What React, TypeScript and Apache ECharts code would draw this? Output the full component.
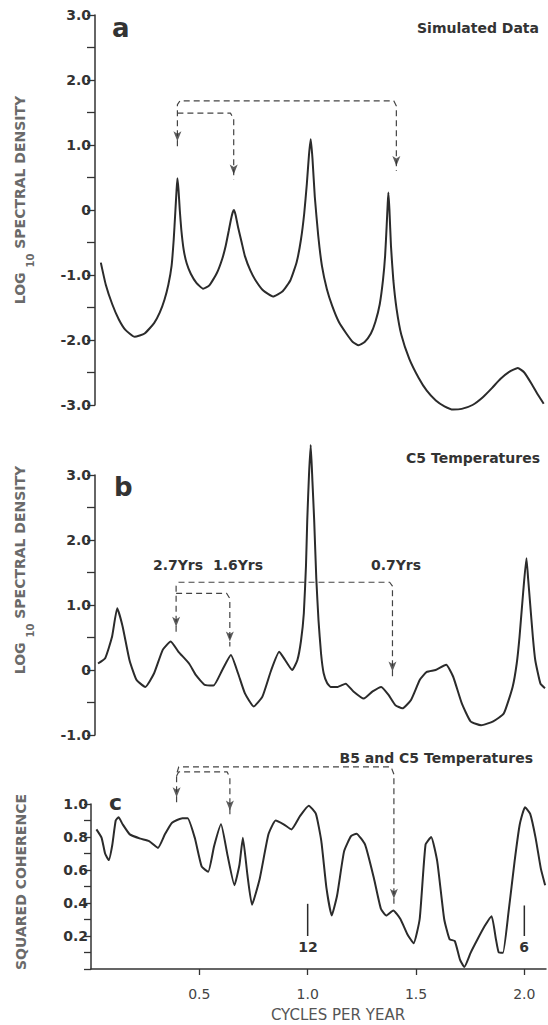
import React, { useEffect, useRef } from 'react';
import * as echarts from 'echarts';

// ---------- data ----------
const X_TICKS = [0.5, 1.0, 1.5, 2.0];
const Y_LABELS_A = [-3, -2, -1, 0, 1, 2, 3];
const Y_LABELS_B = [-1, 0, 1, 2, 3];
const Y_LABELS_C = [0.2, 0.4, 0.6, 0.8, 1.0];

// panel a: simulated data, log10 spectral density
const simulated: number[][] = [
  [0.027, -0.81], [0.05, -1.15], [0.08, -1.45], [0.11, -1.68], [0.14, -1.84], [0.184, -1.95],
  [0.23, -1.9], [0.274, -1.74], [0.3, -1.58], [0.322, -1.38], [0.34, -1.15], [0.355, -0.86],
  [0.365, -0.45], [0.372, -0.05], [0.378, 0.3], [0.382, 0.49], [0.387, 0.32], [0.393, 0.0],
  [0.4, -0.3], [0.411, -0.61], [0.425, -0.82], [0.444, -0.98], [0.47, -1.12], [0.501, -1.21],
  [0.53, -1.16], [0.565, -0.97], [0.59, -0.75], [0.606, -0.55], [0.62, -0.32], [0.63, -0.15],
  [0.638, -0.04], [0.644, 0.0], [0.652, -0.08], [0.663, -0.26], [0.68, -0.5], [0.695, -0.71],
  [0.72, -0.93], [0.744, -1.08], [0.78, -1.24], [0.825, -1.33], [0.87, -1.25], [0.906, -1.08],
  [0.935, -0.8], [0.955, -0.45], [0.97, -0.05], [0.982, 0.4], [0.992, 0.85], [1.0, 1.09],
  [1.008, 0.8], [1.019, 0.2], [1.035, -0.4], [1.052, -0.86], [1.075, -1.22], [1.1, -1.48],
  [1.13, -1.72], [1.165, -1.9], [1.195, -2.03], [1.222, -2.08], [1.25, -2.03], [1.279, -1.9],
  [1.3, -1.72], [1.32, -1.45], [1.335, -1.08], [1.345, -0.7], [1.352, -0.25], [1.357, 0.1],
  [1.36, 0.27], [1.365, 0.0], [1.372, -0.55], [1.383, -1.08], [1.398, -1.52], [1.42, -1.92],
  [1.457, -2.29], [1.5, -2.58], [1.538, -2.78], [1.58, -2.93], [1.62, -3.02], [1.66, -3.07],
  [1.7, -3.06], [1.75, -3.0], [1.798, -2.88], [1.84, -2.74], [1.879, -2.6], [1.92, -2.49],
  [1.96, -2.43], [1.99, -2.5], [2.025, -2.68], [2.055, -2.85], [2.08, -2.98],
];

// panel b: C5 temperatures, log10 spectral density
const c5Temps: number[][] = [
  [0.014, 0.1], [0.047, 0.18], [0.079, 0.51], [0.103, 0.95], [0.128, 0.67], [0.16, 0.15],
  [0.192, -0.15], [0.233, -0.26], [0.274, -0.05], [0.314, 0.31], [0.351, 0.44], [0.387, 0.28],
  [0.436, 0.1], [0.468, -0.08], [0.509, -0.23], [0.549, -0.24], [0.59, 0.0], [0.63, 0.23],
  [0.663, -0.05], [0.695, -0.36], [0.736, -0.56], [0.776, -0.41], [0.817, 0.0], [0.854, 0.28],
  [0.882, 0.15], [0.914, 0.0], [0.938, 0.15], [0.955, 0.45], [0.968, 0.87], [0.978, 1.6],
  [0.984, 2.31], [0.992, 3.0], [1.0, 3.46], [1.008, 2.9], [1.016, 2.31], [1.026, 1.4],
  [1.036, 0.77], [1.048, 0.25], [1.06, -0.05], [1.076, -0.2], [1.092, -0.26], [1.125, -0.26],
  [1.162, -0.21], [1.198, -0.33], [1.246, -0.44], [1.287, -0.33], [1.327, -0.26], [1.36, -0.38],
  [1.392, -0.54], [1.425, -0.59], [1.465, -0.46], [1.506, -0.15], [1.538, -0.03], [1.579, 0.0],
  [1.628, 0.08], [1.66, -0.1], [1.7, -0.51], [1.741, -0.79], [1.79, -0.85], [1.846, -0.79],
  [1.895, -0.67], [1.936, -0.26], [1.955, 0.1], [1.968, 0.51], [1.985, 1.2], [2.0, 1.72],
  [2.008, 1.4], [2.017, 1.03], [2.03, 0.5], [2.041, 0.15], [2.065, -0.21], [2.086, -0.28],
];

// panel c: B5 and C5 temperatures, squared coherence
const coherence: number[][] = [
  [0.025, 0.846], [0.049, 0.795], [0.065, 0.7], [0.082, 0.66], [0.098, 0.75], [0.114, 0.9],
  [0.127, 0.92], [0.146, 0.877], [0.179, 0.816], [0.228, 0.79], [0.268, 0.775], [0.309, 0.734],
  [0.341, 0.816], [0.374, 0.887], [0.422, 0.914], [0.446, 0.914], [0.479, 0.795], [0.511, 0.62],
  [0.541, 0.59], [0.568, 0.744], [0.6, 0.877], [0.63, 0.69], [0.662, 0.508], [0.685, 0.63],
  [0.701, 0.795], [0.722, 0.57], [0.743, 0.39], [0.779, 0.549], [0.819, 0.816], [0.852, 0.9],
  [0.889, 0.877], [0.925, 0.846], [0.965, 0.928], [1.005, 0.99], [1.038, 0.94], [1.063, 0.775],
  [1.087, 0.488], [1.111, 0.324], [1.136, 0.447], [1.168, 0.713], [1.2, 0.805], [1.225, 0.82],
  [1.265, 0.754], [1.306, 0.549], [1.338, 0.365], [1.363, 0.324], [1.395, 0.355], [1.428, 0.303],
  [1.46, 0.211], [1.489, 0.156], [1.517, 0.303], [1.544, 0.754], [1.57, 0.8], [1.598, 0.652],
  [1.63, 0.303], [1.655, 0.18], [1.679, 0.17], [1.703, 0.057], [1.723, 0.012], [1.752, 0.098],
  [1.784, 0.18], [1.817, 0.26], [1.849, 0.32], [1.869, 0.18], [1.882, 0.1], [1.901, 0.098],
  [1.927, 0.344], [1.955, 0.652], [1.979, 0.877], [2.003, 0.98], [2.027, 0.94], [2.052, 0.795],
  [2.076, 0.61], [2.096, 0.508],
];

// annotation brackets (dashed), ending at arrow tips
const bracketAOuter = [[0.382, 0.98], [0.382, 1.62], [0.394, 1.68], [1.385, 1.68], [1.397, 1.6], [1.397, 0.6]];
const bracketAInner = [[0.382, 1.49], [0.628, 1.49], [0.643, 1.4], [0.643, 0.47]];
const bracketBOuter = [[0.376, 0.59], [0.376, 1.29], [0.388, 1.35], [1.366, 1.35], [1.379, 1.29], [1.379, -0.1]];
const bracketBInner = [[0.376, 1.18], [0.61, 1.18], [0.625, 1.1], [0.625, 0.36]];
const bracketCOuter = [[0.395, 1.01], [0.395, 1.18], [0.405, 1.225], [1.385, 1.225], [1.398, 1.18], [1.398, 0.395]];
const bracketCInner = [[0.395, 1.17], [0.405, 1.195], [0.628, 1.195], [0.641, 1.16], [0.641, 0.93]];
const arrowsA = [[0.382, 0.98], [0.643, 0.47], [1.397, 0.6]];
const arrowsB = [[0.376, 0.59], [0.625, 0.36], [1.379, -0.1]];
const arrowsC = [[0.395, 1.01], [0.641, 0.93], [1.398, 0.395]];

// period markers in panel c
const marker12 = [[1.0, 0.2], [1.0, 0.395]];
const marker6 = [[2.0, 0.2], [2.0, 0.385]];

const FONT = '"DejaVu Sans", "Liberation Sans", sans-serif';
const INK = '#2b2b2b';

function fmtY(v: number) {
  if (Math.abs(v) < 1e-9) return '0';
  return v.toFixed(1);
}
function near(list: number[], v: number) {
  return list.some((t) => Math.abs(t - v) < 1e-6);
}

function buildOption() {
  const grids = [
    { left: 95, top: 15, width: 455, height: 390 },
    { left: 95, top: 475, width: 455, height: 260 },
    { left: 91, top: 804, width: 455, height: 165 },
  ];
  const labelStyle = { color: '#333', fontFamily: FONT, fontSize: 14, fontWeight: 'bold' as const };
  const xAxis = [0, 1, 2].map((i) => ({
    type: 'value',
    gridIndex: i,
    min: 0,
    max: 2.1,
    interval: 0.5,
    show: i === 2,
    axisLine: { show: true, onZero: false, lineStyle: { color: '#333', width: 1.5 } },
    axisTick: { show: true, inside: false, length: 6, customValues: X_TICKS, lineStyle: { color: '#333', width: 1.3 } },
    axisLabel: {
      show: true,
      customValues: X_TICKS,
      margin: 18,
      color: '#444',
      fontFamily: FONT,
      fontSize: 14,
      formatter: (v: number) => (near(X_TICKS, v) ? v.toFixed(1) : ''),
    },
    splitLine: { show: false },
  }));
  const yAxisBase = {
    type: 'value',
    axisLine: { show: true, onZero: false, lineStyle: { color: '#333', width: 1.5 } },
    axisTick: { show: true, inside: false, length: 8, lineStyle: { color: '#333', width: 1.3 } },
    splitLine: { show: false },
  };
  const yAxis = [
    {
      ...yAxisBase,
      gridIndex: 0,
      min: -3,
      max: 3,
      interval: 0.5,
      axisLabel: { ...labelStyle, margin: 4, formatter: (v: number) => (near(Y_LABELS_A, v) ? fmtY(v) : '') },
    },
    {
      ...yAxisBase,
      gridIndex: 1,
      min: -1,
      max: 3,
      interval: 0.5,
      axisLabel: { ...labelStyle, margin: 4, formatter: (v: number) => (near(Y_LABELS_B, v) ? fmtY(v) : '') },
    },
    {
      ...yAxisBase,
      gridIndex: 2,
      min: 0,
      max: 1,
      interval: 0.1,
      axisTick: { ...yAxisBase.axisTick, length: 7 },
      axisLabel: { ...labelStyle, margin: 3, formatter: (v: number) => (near(Y_LABELS_C, v) ? v.toFixed(1) : '') },
    },
  ];

  const curve = (data: number[][], idx: number) => ({
    type: 'line',
    xAxisIndex: idx,
    yAxisIndex: idx,
    data,
    symbol: 'none',
    smooth: 0.15,
    clip: false,
    lineStyle: { color: INK, width: 2 },
    z: 3,
  });
  const dashed = (data: number[][], idx: number) => ({
    type: 'line',
    xAxisIndex: idx,
    yAxisIndex: idx,
    data,
    symbol: 'none',
    clip: false,
    lineStyle: { color: '#444', width: 1.2, type: [6, 4] },
    z: 2,
  });
  const arrows = (data: number[][], idx: number) => ({
    type: 'scatter',
    xAxisIndex: idx,
    yAxisIndex: idx,
    data,
    clip: false,
    symbol: 'arrow',
    symbolSize: [6, 10],
    symbolRotate: 180,
    symbolOffset: [0, -5],
    itemStyle: { color: '#333' },
    z: 4,
  });
  const solid = (data: number[][], idx: number) => ({
    type: 'line',
    xAxisIndex: idx,
    yAxisIndex: idx,
    data,
    symbol: 'none',
    clip: false,
    lineStyle: { color: INK, width: 1.5 },
  });

  const series = [
    curve(simulated, 0),
    curve(c5Temps, 1),
    curve(coherence, 2),
    dashed(bracketAOuter, 0),
    dashed(bracketAInner, 0),
    dashed(bracketBOuter, 1),
    dashed(bracketBInner, 1),
    dashed(bracketCOuter, 2),
    dashed(bracketCInner, 2),
    arrows(arrowsA, 0),
    arrows(arrowsB, 1),
    arrows(arrowsC, 2),
    solid(marker12, 2),
    solid(marker6, 2),
  ];

  const titleRich = {
    a: { fontFamily: FONT, fontSize: 14, fontWeight: 'bold', fill: '#6a6a6a', lineHeight: 14, verticalAlign: 'top' },
    s: { fontFamily: FONT, fontSize: 10, fontWeight: 'bold', fill: '#6a6a6a', lineHeight: 22, verticalAlign: 'bottom' },
  };
  const txt = (text: string, x: number, y: number, opts: any = {}) => ({
    type: 'text',
    x,
    y,
    style: {
      text,
      fill: '#333',
      font: `bold 14px ${FONT}`,
      textAlign: 'left',
      textVerticalAlign: 'middle',
      ...opts,
    },
  });

  const graphic = [
    // vertical axis titles
    {
      type: 'text',
      x: 24,
      y: 200,
      rotation: Math.PI / 2,
      style: { text: '{a|LOG }{s|10}{a| SPECTRAL DENSITY}', rich: titleRich, textAlign: 'center', textVerticalAlign: 'middle' },
    },
    {
      type: 'text',
      x: 24,
      y: 570,
      rotation: Math.PI / 2,
      style: { text: '{a|LOG }{s|10}{a| SPECTRAL DENSITY}', rich: titleRich, textAlign: 'center', textVerticalAlign: 'middle' },
    },
    {
      type: 'text',
      x: 21,
      y: 882,
      rotation: Math.PI / 2,
      style: { text: 'SQUARED COHERENCE', fill: '#6a6a6a', font: `bold 14px ${FONT}`, textAlign: 'center', textVerticalAlign: 'middle' },
    },
    // panel letters
    txt('a', 112, 28, { font: `bold 26px ${FONT}` }),
    txt('b', 114, 487, { font: `bold 26px ${FONT}` }),
    txt('c', 109, 802, { font: `bold 22px ${FONT}` }),
    // panel titles
    txt('Simulated Data', 539, 28, { textAlign: 'right' }),
    txt('C5 Temperatures', 540, 458, { textAlign: 'right' }),
    txt('B5 and C5 Temperatures', 533, 758, { textAlign: 'right' }),
    // period annotations
    txt('2.7Yrs', 178, 565, { textAlign: 'center' }),
    txt('1.6Yrs', 238, 565, { textAlign: 'center' }),
    txt('0.7Yrs', 396, 565, { textAlign: 'center' }),
    txt('12', 308, 947, { textAlign: 'center' }),
    txt('6', 524, 947, { textAlign: 'center' }),
    // x axis title
    txt('CYCLES PER YEAR', 338, 1015, { textAlign: 'center', font: `15px ${FONT}`, fill: '#555' }),
  ];

  return {
    animation: false,
    backgroundColor: '#ffffff',
    grid: grids,
    xAxis,
    yAxis,
    series,
    graphic,
  };
}

export default function App() {
  const ref = useRef<HTMLDivElement>(null);
  useEffect(() => {
    document.body.style.margin = '0';
    const chart = echarts.init(ref.current!, null, { renderer: 'svg' });
    chart.setOption(buildOption() as any);
    return () => chart.dispose();
  }, []);
  return <div ref={ref} style={{ width: 548, height: 1025 }} />;
}
